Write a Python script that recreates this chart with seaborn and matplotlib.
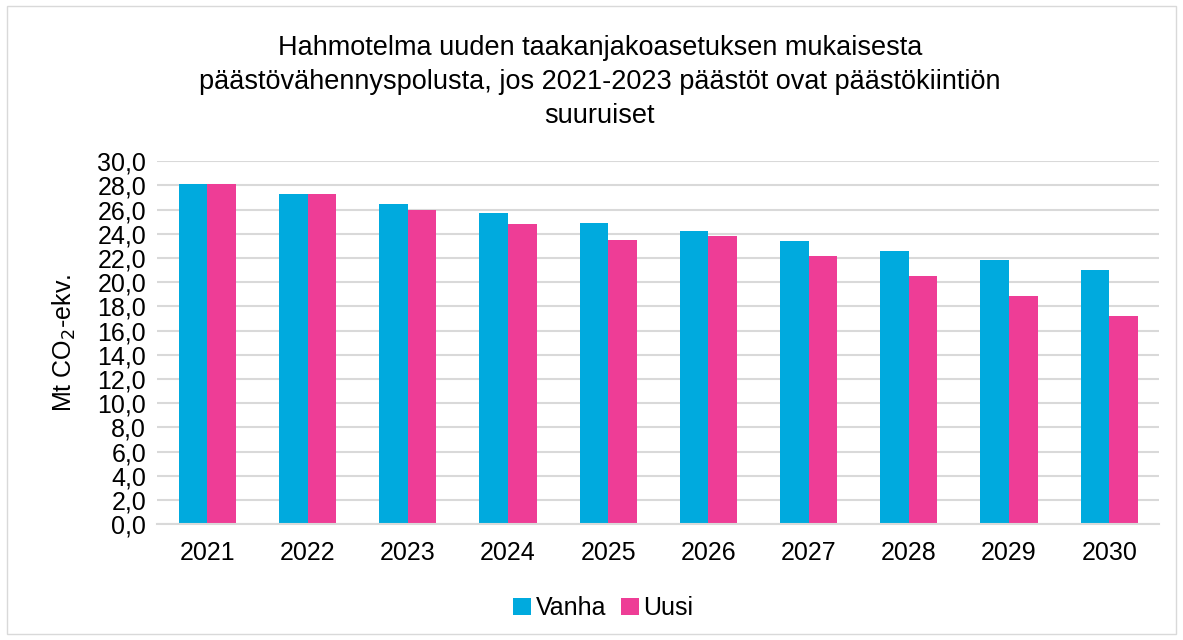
import numpy as np
import pandas as pd
import seaborn as sns
import matplotlib.pyplot as plt
from matplotlib.patches import Rectangle

years = ['2021', '2022', '2023', '2024', '2025', '2026', '2027', '2028', '2029', '2030']
vanha = [28.1, 27.3, 26.5, 25.7, 24.9, 24.2, 23.4, 22.6, 21.8, 21.0]
uusi = [28.1, 27.3, 26.0, 24.8, 23.5, 23.8, 22.2, 20.5, 18.9, 17.2]
series = ['Vanha', 'Uusi']
colors = ['#00AADE', '#EE3D96']

df = pd.DataFrame({'year': years * 2,
                   'value': vanha + uusi,
                   'series': ['Vanha'] * len(years) + ['Uusi'] * len(years)})

sns.set_style('white')
plt.rcParams['font.family'] = ['Liberation Sans', 'DejaVu Sans']
plt.rcParams['text.color'] = 'black'
plt.rcParams['axes.labelcolor'] = 'black'
plt.rcParams['xtick.color'] = 'black'
plt.rcParams['ytick.color'] = 'black'

fig = plt.figure(figsize=(11.83, 6.4), dpi=100)
ax = fig.add_axes([0.133, 0.181, 0.847, 0.567])

sns.barplot(data=df, x='year', y='value', hue='series', hue_order=series,
            palette=colors, width=0.57, gap=0, ax=ax, saturation=1,
            edgecolor='none', legend=True)

ax.set_ylim(0, 30)
ax.set_xlim(-0.5, 9.5)
ax.set_yticks(np.arange(0, 30.1, 2))
ax.set_yticklabels([f'{v:.1f}'.replace('.', ',') for v in np.arange(0, 30.1, 2)])
ax.yaxis.grid(True, color='#D9D9D9', lw=1.5)
ax.set_axisbelow(True)
for s in ['top', 'right', 'left']:
    ax.spines[s].set_visible(False)
ax.spines['bottom'].set_color('#D9D9D9')
ax.spines['bottom'].set_linewidth(1.5)
ax.tick_params(axis='both', labelsize=18, length=0, pad=8)
ax.tick_params(axis='x', pad=12)
ax.set_xlabel('')
ax.set_ylabel('Mt CO$_2$-ekv.', fontsize=18, labelpad=14)

fig.text(0.507, 0.945,
         'Hahmotelma uuden taakanjakoasetuksen mukaisesta\n'
         'päästövähennyspolusta, jos 2021-2023 päästöt ovat päästökiintiön\n'
         'suuruiset',
         ha='center', va='top', fontsize=19.5, linespacing=1.4)

ax.legend(loc='center', bbox_to_anchor=(0.51, 0.05), bbox_transform=fig.transFigure,
          ncol=2, frameon=False, fontsize=18, handlelength=0.7, handleheight=0.7,
          handletextpad=0.2, columnspacing=0.6)

fig.patches.append(Rectangle((0.006, 0.01), 0.988, 0.98, transform=fig.transFigure,
                             fill=False, edgecolor='#D9D9D9', lw=1))

plt.savefig('out.png', dpi=100)
